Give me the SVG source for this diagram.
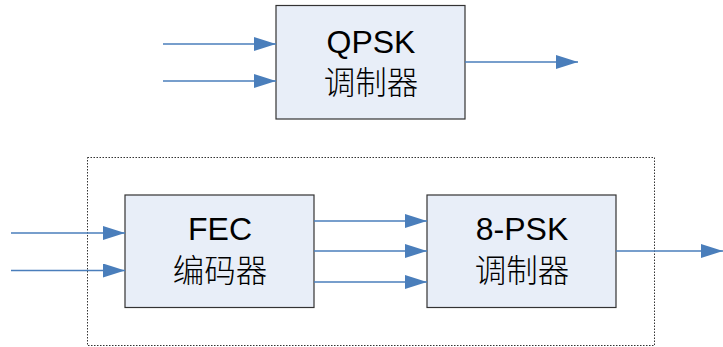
<svg xmlns="http://www.w3.org/2000/svg" width="723" height="347" viewBox="0 0 723 347">
  <defs>
    <marker id="arrow" markerUnits="userSpaceOnUse" markerWidth="22" markerHeight="14" refX="22" refY="7" orient="auto">
      <path d="M0,0 L22,7 L0,14 Z" fill="#4a7ebb"/>
    </marker>
    <style>
      .box { fill: #e8eef8; stroke: #333333; stroke-width: 1.2; }
      .frame { fill: none; stroke: #333333; stroke-width: 1; stroke-dasharray: 1.5 1.5; }
      .wire { fill: none; stroke: #4a7ebb; stroke-width: 1.5; marker-end: url(#arrow); }
      .lbl { font-family: "Liberation Sans", Arial, "Noto Sans CJK SC", sans-serif; font-size: 32px; fill: #000; text-anchor: middle; }
      .cjk { font-family: "Noto Sans CJK SC", sans-serif; font-size: 31.5px; font-weight: 300; fill: #000; text-anchor: middle; }
    </style>
  </defs>
  <rect width="723" height="347" fill="#ffffff"/>

  <!-- dotted enclosure around the coded path -->
  <rect class="frame" x="87.5" y="157.5" width="567" height="188"/>

  <g id="qpsk">
    <rect class="box" x="276" y="5.5" width="189" height="113.5"/>
    <text class="lbl" x="371" y="53">QPSK</text>
    <text class="cjk" x="371" y="94">调制器</text>
  </g>

  <g id="fec">
    <rect class="box" x="125" y="195" width="189" height="112.5"/>
    <text class="lbl" x="220" y="240">FEC</text>
    <text class="cjk" x="220" y="282">编码器</text>
  </g>

  <g id="psk8">
    <rect class="box" x="427" y="195" width="189" height="112.5"/>
    <text class="lbl" x="522" y="240">8-PSK</text>
    <text class="cjk" x="522" y="282">调制器</text>
  </g>

  <g id="connectors">
    <line class="wire" x1="163" y1="44" x2="276" y2="44"/>
    <line class="wire" x1="163" y1="81" x2="276" y2="81"/>
    <line class="wire" x1="465" y1="62" x2="578" y2="62"/>

    <line class="wire" x1="11" y1="233" x2="125" y2="233"/>
    <line class="wire" x1="11" y1="270.5" x2="125" y2="270.5"/>

    <line class="wire" x1="314" y1="221" x2="427" y2="221"/>
    <line class="wire" x1="314" y1="251" x2="427" y2="251"/>
    <line class="wire" x1="314" y1="282" x2="427" y2="282"/>

    <line class="wire" x1="616" y1="251" x2="723" y2="251"/>
  </g>
</svg>
